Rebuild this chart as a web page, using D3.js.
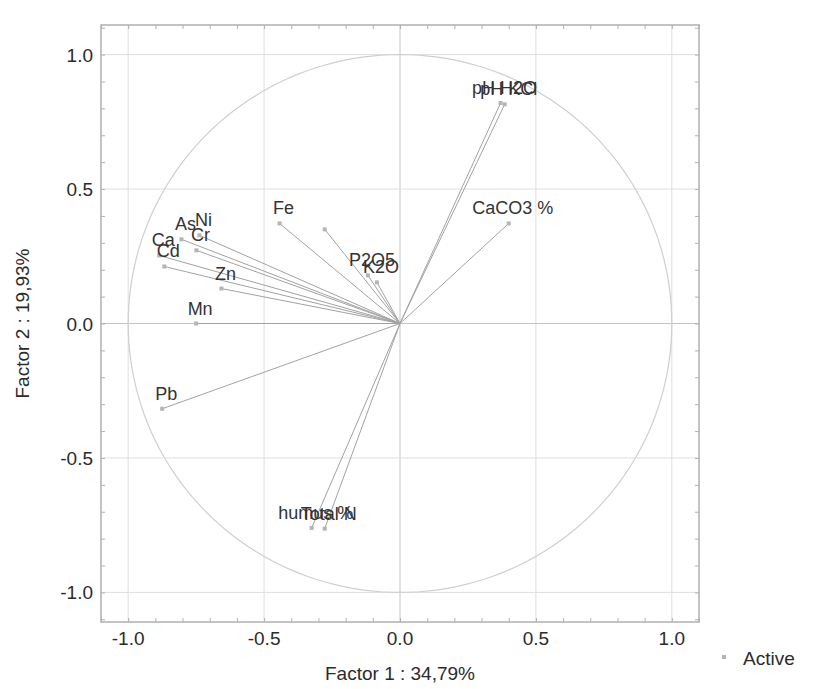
<!DOCTYPE html>
<html lang="en">
<head>
    <meta charset="UTF-8">
    <title>Factor plane - variable projections</title>
    <script src="https://cdnjs.cloudflare.com/ajax/libs/d3/7.8.5/d3.min.js"></script>
    <style>
        body {
            margin: 0;
            background-color: white;
        }

        text {
            font-family: "Liberation Sans", Arial, sans-serif;
            fill: #2b2b2b;
        }

        .vector {
            stroke: #a2a2a2;
            stroke-width: 1;
        }

        .var-label {
            font-size: 18px;
            fill: #333;
        }
    </style>
</head>
<body>
<div id="chart"></div>
<script>
    // variable coordinates on factor 1 and factor 2
    const varNames = ['pH H2O', 'pH KCl', 'CaCO3 %', 'Fe', '', 'P2O5', 'K2O', 'As', 'Ni', 'Cr',
        'Ca', 'Cd', 'Zn', 'Mn', 'Pb', 'humus %', 'Total N'];
    const factor1 = [0.37, 0.385, 0.40, -0.443, -0.277, -0.118, -0.085, -0.804, -0.738, -0.749,
        -0.886, -0.867, -0.657, -0.75, -0.875, -0.325, -0.277];
    const factor2 = [0.82, 0.815, 0.372, 0.372, 0.35, 0.179, 0.153, 0.313, 0.328, 0.272,
        0.253, 0.212, 0.13, 0.0, -0.317, -0.76, -0.763];

    const tickValues = [-1.0, -0.5, 0.0, 0.5, 1.0];
    const minorTicks = d3.range(-11, 12).map(i => i / 10);
    const xTitle = 'Factor  1 : 34,79%';
    const yTitle = 'Factor 2 : 19,93%';
    const legendLabel = 'Active';

    const width = 819;
    const height = 689;

    const svg = d3.select('#chart')
        .append('svg')
        .attr('width', width)
        .attr('height', height);

    const x = d3.scaleLinear().domain([-1.1, 1.1]).range([101, 699]);
    const y = d3.scaleLinear().domain([-1.11, 1.11]).range([622, 25]);

    // grid
    const grid = svg.append('g');
    grid.selectAll('.gx').data(tickValues).enter().append('line')
        .attr('x1', d => x(d)).attr('x2', d => x(d))
        .attr('y1', y.range()[0]).attr('y2', y.range()[1])
        .style('stroke', d => d === 0 ? '#c4c4c4' : '#dedede');
    grid.selectAll('.gy').data(tickValues).enter().append('line')
        .attr('y1', d => y(d)).attr('y2', d => y(d))
        .attr('x1', x.range()[0]).attr('x2', x.range()[1])
        .style('stroke', d => d === 0 ? '#c4c4c4' : '#dedede');

    // unit circle
    const circlePts = d3.range(0, 361, 2).map(a => [Math.cos(a * Math.PI / 180), Math.sin(a * Math.PI / 180)]);
    svg.append('path')
        .attr('d', d3.line().x(d => x(d[0])).y(d => y(d[1]))(circlePts))
        .attr('fill', 'none')
        .attr('stroke', '#cfcfcf')
        .attr('stroke-width', 1.2);

    // frame + inner ticks
    svg.append('rect')
        .attr('x', x.range()[0]).attr('y', y.range()[1])
        .attr('width', x.range()[1] - x.range()[0])
        .attr('height', y.range()[0] - y.range()[1])
        .attr('fill', 'none')
        .attr('stroke', '#b0b0b0')
        .attr('stroke-width', 1.5);

    const axisBottom = d3.axisBottom(x).tickValues(minorTicks).tickSize(-4).tickFormat('');
    const axisTop = d3.axisTop(x).tickValues(minorTicks).tickSize(-4).tickFormat('');
    const axisLeft = d3.axisLeft(y).tickValues(minorTicks).tickSize(-4).tickFormat('');
    const axisRight = d3.axisRight(y).tickValues(minorTicks).tickSize(-4).tickFormat('');
    [[axisBottom, `translate(0,${y.range()[0]})`], [axisTop, `translate(0,${y.range()[1]})`],
        [axisLeft, `translate(${x.range()[0]},0)`], [axisRight, `translate(${x.range()[1]},0)`]]
        .forEach(([ax, tr]) => {
            const g = svg.append('g').attr('transform', tr).call(ax);
            g.select('.domain').remove();
            g.selectAll('line').attr('stroke', '#b0b0b0');
        });

    // tick labels
    const fmt = d => d3.format('.1f')(d).replace('−', '-');
    svg.selectAll('.xtick').data(tickValues).enter().append('text')
        .attr('x', d => x(d)).attr('y', 645)
        .attr('text-anchor', 'middle')
        .style('font-size', '19px')
        .text(fmt);
    svg.selectAll('.ytick').data(tickValues).enter().append('text')
        .attr('x', 93).attr('y', d => y(d) + 7)
        .attr('text-anchor', 'end')
        .style('font-size', '19px')
        .text(fmt);

    svg.append('text')
        .attr('x', x(0)).attr('y', 680)
        .attr('text-anchor', 'middle')
        .style('font-size', '19px')
        .text(xTitle);
    svg.append('text')
        .attr('transform', `translate(29,${y(0)}) rotate(-90)`)
        .attr('text-anchor', 'middle')
        .style('font-size', '19px')
        .text(yTitle);

    // vectors
    const data = varNames.map((n, i) => ({name: n, f1: factor1[i], f2: factor2[i]}));
    svg.selectAll('.vector').data(data).enter().append('line')
        .attr('class', 'vector')
        .attr('x1', x(0)).attr('y1', y(0))
        .attr('x2', d => x(d.f1)).attr('y2', d => y(d.f2));

    svg.selectAll('.marker').data(data).enter().append('rect')
        .attr('x', d => x(d.f1) - 2).attr('y', d => y(d.f2) - 2)
        .attr('width', 4).attr('height', 4)
        .attr('fill', '#b5b5b5');

    svg.selectAll('.var-label').data(data).enter().append('text')
        .attr('class', 'var-label')
        .attr('x', d => x(d.f1) + 4).attr('y', d => y(d.f2) - 9)
        .attr('text-anchor', 'middle')
        .text(d => d.name);

    // legend
    svg.append('rect')
        .attr('x', 722).attr('y', 655).attr('width', 4).attr('height', 4)
        .attr('fill', '#b5b5b5');
    svg.append('text')
        .attr('x', 743).attr('y', 665)
        .style('font-size', '19px')
        .text(legendLabel);
</script>
</body>
</html>
